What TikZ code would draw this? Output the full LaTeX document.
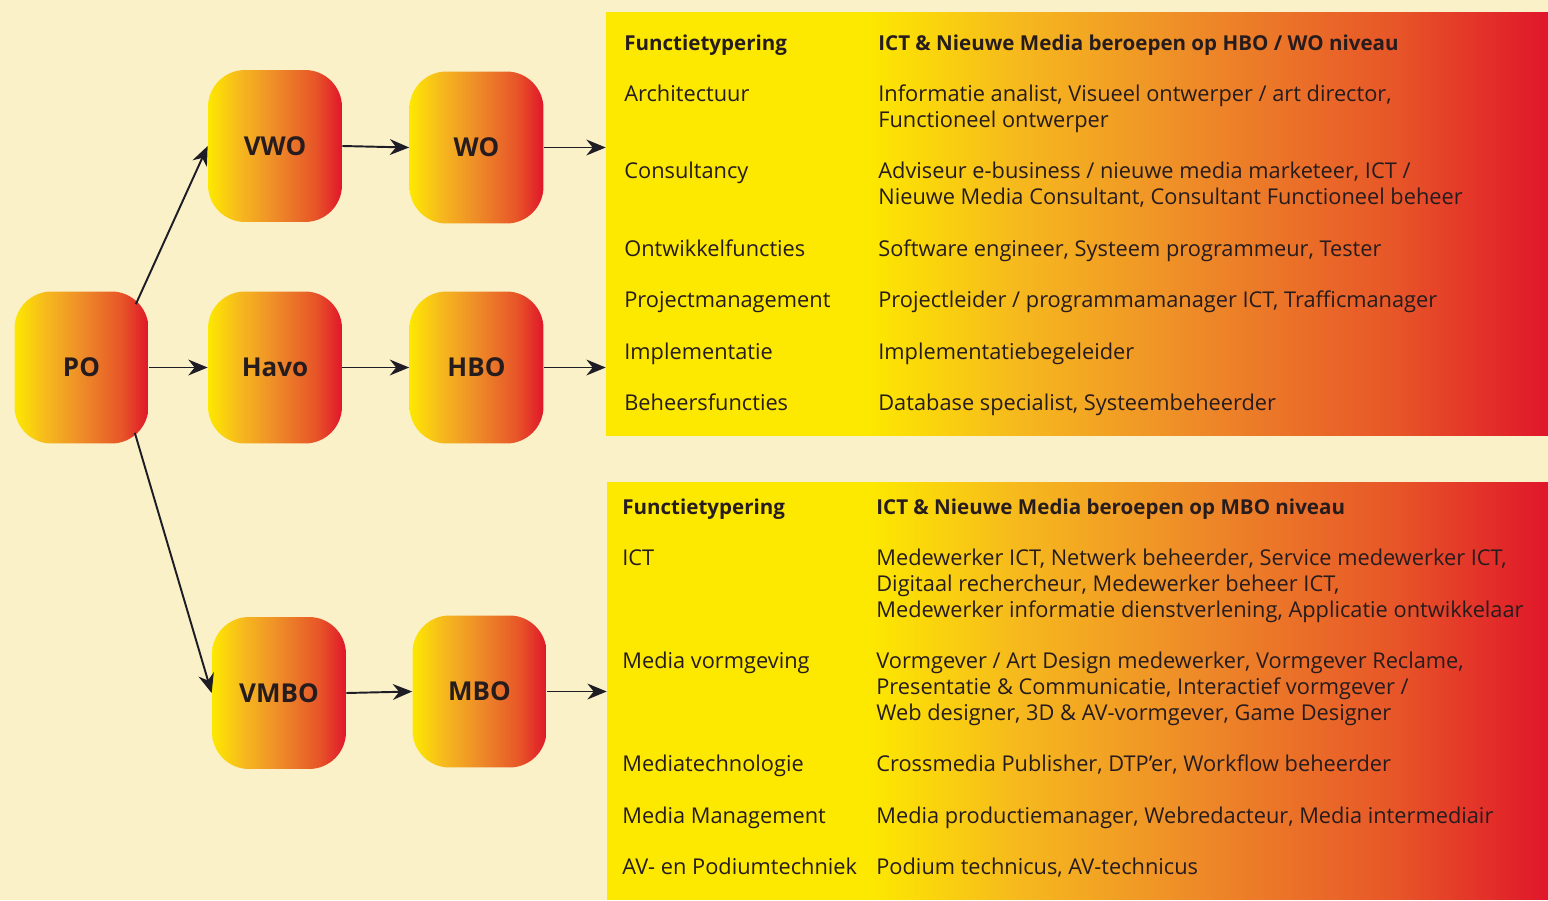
\documentclass[tikz,border=0pt]{standalone}
\usepackage{fontspec}
\setmainfont{Open Sans}
\usetikzlibrary{calc,arrows.meta}

\definecolor{achter}{RGB}{251,241,201}
\definecolor{geel}{RGB}{253,232,0}
\definecolor{goud}{RGB}{246,184,30}
\definecolor{oranje}{RGB}{238,140,40}
\definecolor{roodoranje}{RGB}{231,85,40}
\definecolor{rood}{RGB}{224,22,42}
\definecolor{tekst}{RGB}{38,28,30}
\definecolor{pijl}{RGB}{30,28,36}

\pgfdeclarehorizontalshading{blokkleur}{100bp}{color(0bp)=(geel); color(25bp)=(geel); color(37bp)=(goud); color(50bp)=(oranje); color(65bp)=(roodoranje); color(75bp)=(rood); color(100bp)=(rood)}
\pgfdeclarehorizontalshading{vlakkleur}{100bp}{color(0bp)=(geel); color(39bp)=(geel); color(47bp)=(goud); color(56bp)=(oranje); color(67bp)=(roodoranje); color(75bp)=(rood); color(100bp)=(rood)}

\tikzset{
  opleiding/.style={rectangle, rounded corners=0.74cm, shading=blokkleur,
    minimum width=2.68cm, minimum height=3.04cm, text=tekst,
    font=\fontsize{14.8}{17}\selectfont\bfseries},
  vlak/.style={rectangle, shading=vlakkleur, inner sep=0pt},
  kop/.style={anchor=base west, inner sep=0pt, text=tekst,
    font=\fontsize{11.7}{14.6}\selectfont\bfseries},
  regel/.style={anchor=base west, inner sep=0pt, align=left, text=tekst,
    font=\fontsize{12.4}{14.6}\selectfont},
  pijlstijl/.style={->, line width=1.1pt, draw=pijl}
}

\begin{document}
\begin{tikzpicture}[x=0.02cm,y=-0.02cm,>={Stealth[length=11pt,width=9pt]}]
    \fill[achter] (0,0) rectangle (1548,900);
    \useasboundingbox (0,0) rectangle (1548,900);

    % opleidingen
    \node[opleiding] (PO) at (81.5,367.5) {PO};
    \node[opleiding] (VWO) at (275,146) {VWO};
    \node[opleiding] (WO) at (476.5,147.5) {WO};
    \node[opleiding] (Havo) at (275,367.5) {Havo};
    \node[opleiding] (HBO) at (476.5,367.5) {HBO};
    \node[opleiding] (VMBO) at (279,693) {VMBO};
    \node[opleiding] (MBO) at (479.5,691.5) {MBO};

    % vlakken met beroepen
    \node[vlak, minimum width=18.84cm, minimum height=8.48cm] (hbovlak) at (1077,224) {};
    \node[vlak, minimum width=18.82cm, minimum height=8.36cm] (mbovlak) at (1077.5,691) {};

    % pijlen
    \coordinate (P1) at ($(PO.north east)+(-13,13)$);
    \coordinate (P2) at ($(PO.south east)+(-14,-11)$);
    \draw[pijlstijl] (P1) -- (VWO.west);
    \draw[pijlstijl] (PO.east) -- (Havo.west);
    \draw[pijlstijl] (P2) -- (VMBO.west);
    \draw[pijlstijl] (VWO.east) -- (WO.west);
    \draw[pijlstijl] (Havo.east) -- (HBO.west);
    \draw[pijlstijl] (VMBO.east) -- (MBO.west);
    \draw[pijlstijl] (WO.east) -- (WO.east -| hbovlak.west);
    \draw[pijlstijl] (HBO.east) -- (HBO.east -| hbovlak.west);
    \draw[pijlstijl] (MBO.east) -- (MBO.east -| mbovlak.west);

    % HBO / WO (base = laatste regel)
    \node[kop] (hkl) at (624,50) {Functietypering};
    \node[kop] (hkr) at (878,50) {ICT \& Nieuwe Media beroepen op HBO / WO niveau};
    \node[regel] (hl1) at (624,101.5) {Architectuur};
    \node[regel] (hr1) at (878,127.25) {Informatie analist, Visueel ontwerper / art director,\\Functioneel ontwerper};
    \node[regel] (hl2) at (624,178.75) {Consultancy};
    \node[regel] (hr2) at (878,204.5) {Adviseur e-business / nieuwe media marketeer, ICT /\\Nieuwe Media Consultant, Consultant Functioneel beheer};
    \node[regel] (hl3) at (624,256) {Ontwikkelfuncties};
    \node[regel] (hr3) at (878,256) {Software engineer, Systeem programmeur, Tester};
    \node[regel] (hl4) at (624,307.5) {Projectmanagement};
    \node[regel] (hr4) at (878,307.5) {Projectleider / programmamanager ICT, Trafficmanager};
    \node[regel] (hl5) at (624,359) {Implementatie};
    \node[regel] (hr5) at (878,359) {Implementatiebegeleider};
    \node[regel] (hl6) at (624,410.5) {Beheersfuncties};
    \node[regel] (hr6) at (878,410.5) {Database specialist, Systeembeheerder};

    % MBO
    \node[kop] (mkl) at (622,514) {Functietypering};
    \node[kop] (mkr) at (876,514) {ICT \& Nieuwe Media beroepen op MBO niveau};
    \node[regel] (ml1) at (622,565.5) {ICT};
    \node[regel] (mr1) at (876,617) {Medewerker ICT, Netwerk beheerder, Service medewerker ICT,\\Digitaal rechercheur, Medewerker beheer ICT,\\Medewerker informatie dienstverlening, Applicatie ontwikkelaar};
    \node[regel] (ml2) at (622,668.5) {Media vormgeving};
    \node[regel] (mr2) at (876,720) {Vormgever / Art Design medewerker, Vormgever Reclame,\\Presentatie \& Communicatie, Interactief vormgever /\\Web designer, 3D \& AV-vormgever, Game Designer};
    \node[regel] (ml3) at (622,771.5) {Mediatechnologie};
    \node[regel] (mr3) at (876,771.5) {Crossmedia Publisher, DTP’er, Workflow beheerder};
    \node[regel] (ml4) at (622,823) {Media Management};
    \node[regel] (mr4) at (876,823) {Media productiemanager, Webredacteur, Media intermediair};
    \node[regel] (ml5) at (622,874.5) {AV- en Podiumtechniek};
    \node[regel] (mr5) at (876,874.5) {Podium technicus, AV-technicus};
\end{tikzpicture}
\end{document}
